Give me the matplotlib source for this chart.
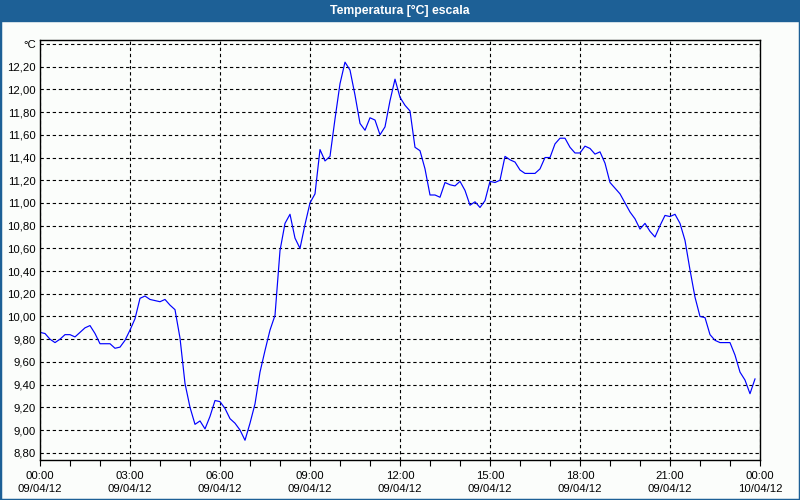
import matplotlib
matplotlib.use("Agg")
import matplotlib.pyplot as plt
import matplotlib.dates as mdates
import pandas as pd
from matplotlib.patches import Rectangle

# temperature readings every 10 minutes, 09/04/12 00:00 -> 23:50
temps = [
    9.86, 9.85, 9.80, 9.77, 9.80, 9.84, 9.84, 9.82, 9.86, 9.90, 9.92, 9.85,
    9.76, 9.76, 9.76, 9.72, 9.73, 9.79, 9.88, 9.98, 10.16, 10.18, 10.15, 10.14,
    10.13, 10.15, 10.10, 10.06, 9.81, 9.41, 9.20, 9.05, 9.08, 9.01, 9.12, 9.26,
    9.25, 9.19, 9.10, 9.06, 9.00, 8.91, 9.06, 9.23, 9.51, 9.70, 9.88, 10.01,
    10.58, 10.82, 10.90, 10.69, 10.60, 10.81, 11.00, 11.08, 11.47, 11.37, 11.41, 11.74,
    12.05, 12.24, 12.17, 11.95, 11.70, 11.64, 11.75, 11.73, 11.60, 11.67, 11.90, 12.09,
    11.93, 11.86, 11.81, 11.49, 11.46, 11.30, 11.07, 11.07, 11.05, 11.18, 11.16, 11.15,
    11.19, 11.11, 10.98, 11.01, 10.96, 11.02, 11.19, 11.18, 11.20, 11.41, 11.38, 11.36,
    11.29, 11.26, 11.26, 11.26, 11.30, 11.40, 11.40, 11.52, 11.57, 11.57, 11.49, 11.44,
    11.44, 11.50, 11.48, 11.43, 11.45, 11.35, 11.18, 11.13, 11.08, 11.00, 10.92, 10.86,
    10.77, 10.82, 10.75, 10.70, 10.80, 10.89, 10.88, 10.90, 10.82, 10.67, 10.41, 10.17,
    10.00, 9.99, 9.84, 9.79, 9.77, 9.77, 9.77, 9.66, 9.51, 9.44, 9.32, 9.45,
]
times = pd.date_range("2012-04-09 00:00", periods=len(temps), freq="10min").to_pydatetime()

y_ticks = [8.8, 9.0, 9.2, 9.4, 9.6, 9.8, 10.0, 10.2, 10.4, 10.6, 10.8,
           11.0, 11.2, 11.4, 11.6, 11.8, 12.0, 12.2, 12.4]
y_labels = ["8,80", "9,00", "9,20", "9,40", "9,60", "9,80", "10,00", "10,20",
            "10,40", "10,60", "10,80", "11,00", "11,20", "11,40", "11,60",
            "11,80", "12,00", "12,20", "°C"]
x_ticks = pd.date_range("2012-04-09 00:00", "2012-04-10 00:00", freq="3h").to_pydatetime()
x_labels = [t.strftime("%H:%M\n%d/%m/%y") for t in x_ticks]

bar_blue = "#1D6096"
bg = "#FBFDFB"
plt.rcParams["font.family"] = ["Liberation Sans", "DejaVu Sans"]

fig = plt.figure(figsize=(8, 5), dpi=100, facecolor=bg)
ax = fig.add_axes([0.05, 0.08, 0.9, 0.84])
ax.set_facecolor(bg)

ax.plot(times, temps, color="#0000FF", lw=0.85)

ax.set_xlim(x_ticks[0], x_ticks[-1])
ax.set_xticks(x_ticks, x_labels)
ax.xaxis.set_minor_locator(mdates.HourLocator())
ax.set_yticks(y_ticks, y_labels)
ax.set_ylim(8.736, 12.435)

ax.grid(True, which="major", color="black", linestyle=(0, (3, 2.5)), linewidth=0.8)
ax.tick_params(axis="x", which="both", direction="out", length=4, width=0.8,
               pad=4, labelsize=8.2)
ax.tick_params(axis="y", length=0, pad=3, labelsize=8.2)
for lbl in ax.get_xticklabels():
    lbl.set_linespacing(1.42)
for sp in ax.spines.values():
    sp.set_linewidth(1.0)

# title bar + frame
fig.add_artist(Rectangle((0, 1 - 21 / 500), 1, 21 / 500, transform=fig.transFigure,
                         color=bar_blue, zorder=0))
fig.add_artist(Rectangle((0, 0), 1, 1, transform=fig.transFigure, fill=False,
                         edgecolor=bar_blue, lw=2.5, zorder=5))
fig.text(0.5, 1 - 10.5 / 500, "Temperatura [°C] escala", color="white",
         fontweight="bold", ha="center", va="center", fontsize=8.8)

fig.savefig("out.png", dpi=100, facecolor=fig.get_facecolor())
